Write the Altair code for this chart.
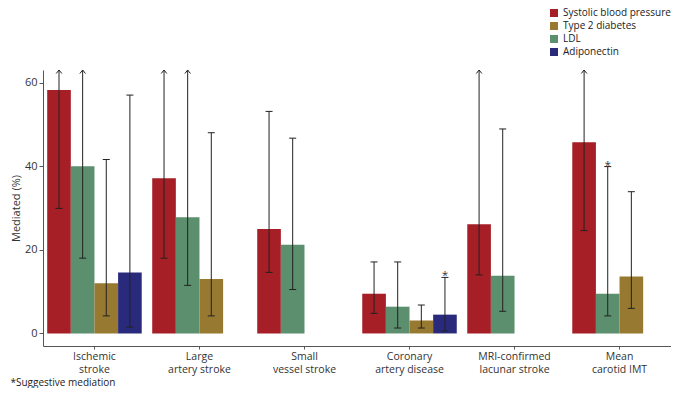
import altair as alt
import pandas as pd

outcomes = ["Ischemic\nstroke", "Large\nartery stroke", "Small\nvessel stroke",
            "Coronary\nartery disease", "MRI-confirmed\nlacunar stroke", "Mean\ncarotid IMT"]
mediators = ["Systolic blood pressure", "Type 2 diabetes", "LDL", "Adiponectin"]
colors = ["#A61E26", "#977931", "#5B8F6E", "#2A2A7C"]

# per bar: outcome index, mediator, estimate, lower CI, upper CI (None = beyond axis, arrow)
bar_outcome = [0, 0, 0, 0, 1, 1, 1, 2, 2, 3, 3, 3, 3, 4, 4, 5, 5, 5]
bar_mediator = ["Systolic blood pressure", "LDL", "Type 2 diabetes", "Adiponectin",
                "Systolic blood pressure", "LDL", "Type 2 diabetes",
                "Systolic blood pressure", "LDL",
                "Systolic blood pressure", "LDL", "Type 2 diabetes", "Adiponectin",
                "Systolic blood pressure", "LDL",
                "Systolic blood pressure", "LDL", "Type 2 diabetes"]
bar_slot = [0, 1, 2, 3, 0, 1, 2, 0, 1, 0, 1, 2, 3, 0, 1, 0, 1, 2]
est = [58.2, 40.0, 12.0, 14.6, 37.1, 27.8, 13.0, 25.0, 21.2, 9.5, 6.4, 3.1, 4.5, 26.1, 13.8, 45.7, 9.5, 13.6]
lo = [29.9, 18.0, 4.2, 1.5, 18.0, 11.5, 4.2, 14.6, 10.5, 4.8, 1.3, 1.3, 0.6, 14.0, 5.3, 24.6, 4.2, 6.0]
hi = [None, None, 41.6, 57.0, None, None, 48.0, 53.1, 46.7, 17.1, 17.1, 6.8, 13.4, None, 48.9, None, 39.9, 33.9]
suggestive = [False, False, False, False, False, False, False, False, False,
              False, False, False, True, False, False, False, True, False]

Y_MIN, Y_MAX = -3, 63

df = pd.DataFrame({
    "outcome": [outcomes[i] for i in bar_outcome],
    "mediator": bar_mediator,
    "slot": bar_slot,
    "est": est,
    "lo": lo,
    "hi": [h if h is not None else Y_MAX for h in hi],
    "open": [h is None for h in hi],
    "star": ["*" if s else "" for s in suggestive],
})

x_enc = alt.X("outcome:N", sort=outcomes, title=None,
              scale=alt.Scale(paddingInner=0.1, paddingOuter=0.04),
              axis=alt.Axis(labelExpr="split(datum.value, '\\n')", labelAngle=0,
                            labelFontSize=10.5, labelColor="#333", labelPadding=2,
                            tickSize=3, domainColor="#555", tickColor="#555",
                            labelFont="Open Sans", labelLineHeight=13))
xo = alt.XOffset("slot:O", scale=alt.Scale(domain=[0, 1, 2, 3], paddingInner=0, paddingOuter=0))
yscale = alt.Scale(domain=[Y_MIN, Y_MAX], nice=False, zero=False)

base = alt.Chart(df)

bars = base.mark_bar(opacity=1).encode(
    x=x_enc, xOffset=xo,
    y=alt.Y("est:Q", scale=yscale, title="Mediated (%)",
            axis=alt.Axis(values=[0, 20, 40, 60], grid=False, labelFontSize=11,
                          labelColor="#333", titleFontSize=11, titleColor="#333",
                          titleFontWeight="normal", titleFont="Open Sans", labelFont="Open Sans",
                          tickSize=4, labelPadding=2, titlePadding=3,
                          domainColor="#555", tickColor="#555")),
    y2=alt.Y2(datum=0),
    color=alt.Color("mediator:N", sort=mediators,
                    scale=alt.Scale(domain=mediators, range=colors),
                    legend=alt.Legend(title=None, orient="none", legendX=506, legendY=-62,
                                      symbolType="square", symbolSize=64, symbolStrokeWidth=0,
                                      labelFontSize=10, labelFont="Open Sans", labelColor="#222",
                                      rowPadding=3, labelOffset=4)),
)

rules = base.mark_rule(color="#222", strokeWidth=1).encode(
    x=alt.X("outcome:N", sort=outcomes), xOffset=xo,
    y=alt.Y("lo:Q", scale=yscale), y2="hi:Q")

lower_caps = base.mark_point(shape="M-1,0L1,0", size=49, filled=False, color="#222",
                             strokeWidth=1, opacity=1).encode(
    x=alt.X("outcome:N", sort=outcomes), xOffset=xo,
    y=alt.Y("lo:Q", scale=yscale))

upper_caps = base.transform_filter("!datum.open").mark_point(
    shape="M-1,0L1,0", size=49, filled=False, color="#222", strokeWidth=1, opacity=1).encode(
    x=alt.X("outcome:N", sort=outcomes), xOffset=xo,
    y=alt.Y("hi:Q", scale=yscale))

arrows = base.transform_filter("datum.open").mark_point(
    shape="M-0.8,1L0,0L0.8,1", size=49, filled=False, color="#222", strokeWidth=1, opacity=1).encode(
    x=alt.X("outcome:N", sort=outcomes), xOffset=xo,
    y=alt.Y("hi:Q", scale=yscale))

stars = base.transform_filter("datum.star != ''").mark_text(
    fontSize=11, font="Open Sans", color="#333", baseline="alphabetic", dy=2).encode(
    x=alt.X("outcome:N", sort=outcomes), xOffset=xo,
    y=alt.Y("hi:Q", scale=yscale), text="star:N")

chart = alt.layer(bars, rules, lower_caps, upper_caps, arrows, stars).properties(
    width=628, height=276,
    padding={"left": 2, "top": 0, "right": 0, "bottom": 0},
    title=alt.TitleParams("*Suggestive mediation", orient="bottom", anchor="start",
                          frame="bounds", fontSize=10, fontWeight="normal",
                          font="Open Sans", color="#222", offset=3),
).configure_view(stroke=None)

chart.save("out.html", embed_options={"renderer": "svg", "actions": False})
